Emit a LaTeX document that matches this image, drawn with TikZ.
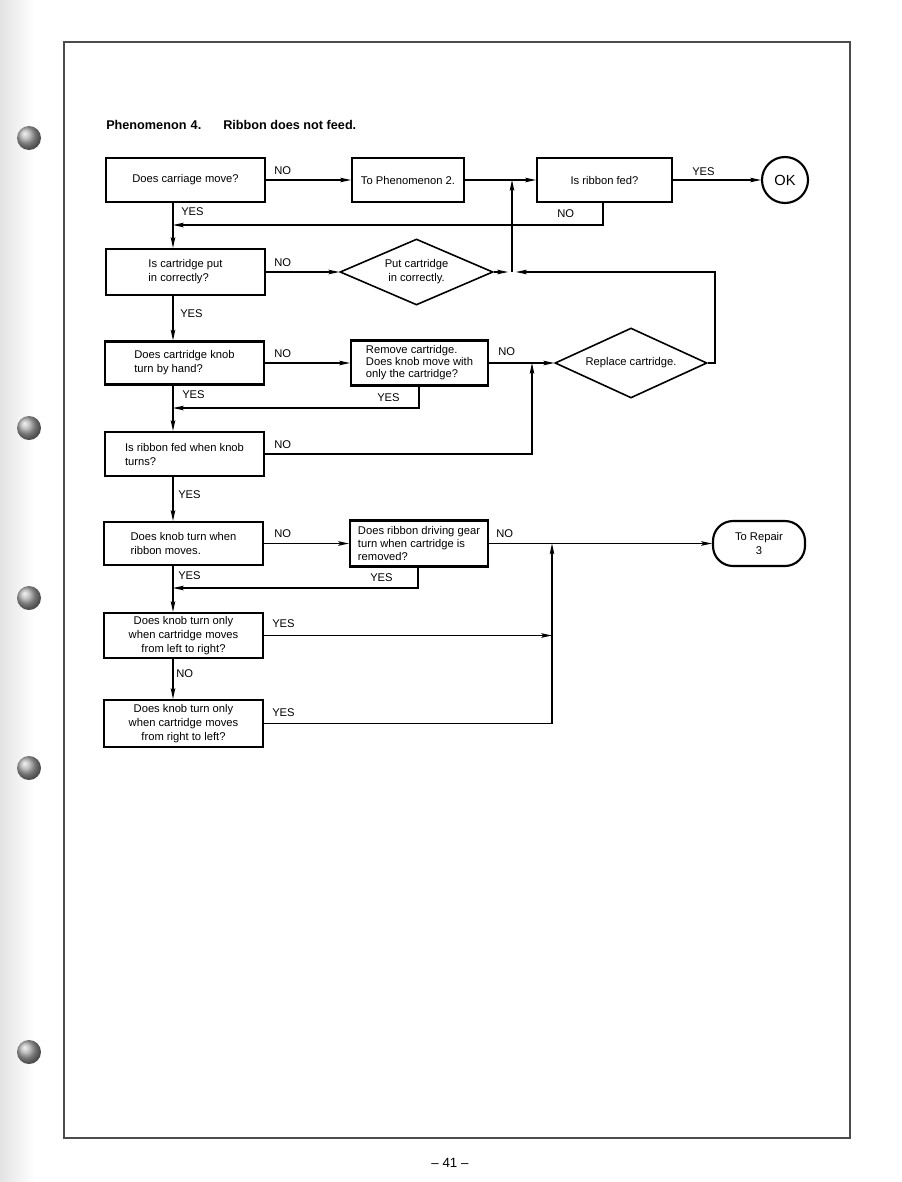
\documentclass[tikz,border=0pt]{standalone}
\usepackage{fontspec}
\setmainfont{Liberation Sans}
\usetikzlibrary{arrows.meta,shapes.geometric,calc}
\newcommand\boxfont{\fontsize{8.4}{10.5}\selectfont}
\newcommand\tightfont{\fontsize{8.4}{9}\selectfont}
\begin{document}
\begin{tikzpicture}[x=0.75pt,y=-0.75pt,
  box/.style={draw,line width=1.6pt,rectangle,inner sep=1pt,font=\boxfont},
  dia/.style={draw,line width=1.2pt,diamond,inner sep=0pt,font=\boxfont,align=center},
  conn/.style={line width=0.85pt},
  arr/.style={conn,-{Stealth[length=8pt,width=3.4pt,inset=1.5pt]}},
  lab/.style={anchor=west,inner sep=0pt,font=\boxfont}]
\useasboundingbox (0,0) rectangle (901,1182);
\fill[white] (0,0) rectangle (901,1182);
\shade[left color=gray!22,right color=white] (0,0) rectangle (34,1182);
% binder holes
\foreach \yy in {138,428,598,768,1052}{
  \shade[ball color=gray!65] (29,\yy) circle[radius=9pt];
}
% frame
\draw[line width=0.8pt,gray!60!black] (64,42) rectangle (850,1138);
% title
\node[anchor=west,inner sep=0pt,font=\fontsize{9.5}{11}\selectfont\bfseries] (t1) at (106,125) {Phenomenon\,\,4.};
\node[anchor=west,inner sep=0pt,font=\fontsize{9.5}{11}\selectfont\bfseries] (t2) at (223,125) {Ribbon does not feed.};

% nodes
\node[box,minimum width=119.25pt,minimum height=33pt] (b1) at (185.5,180) {Does carriage move?};
\node[box,minimum width=84pt,minimum height=33pt] (b2) at (408,180) {To Phenomenon 2.};
\node[box,minimum width=101.25pt,minimum height=33pt] (b3) at (604.5,180) {Is ribbon fed?};
\node[draw,circle,line width=1.6pt,minimum size=34.5pt,inner sep=0pt,font=\fontsize{11}{13}\selectfont] (ok) at (785,180) {OK};
\node[box,align=left,minimum width=119.25pt,minimum height=34.5pt] (b5) at (185.5,272) {Is cartridge put\\in correctly?};
\node[dia,aspect=2.3,minimum width=114.75pt,minimum height=49.5pt] (d1) at (416.5,272) {Put cartridge\\in correctly.};
\node[box,align=left,minimum width=119.25pt,minimum height=32.25pt] (b7) at (184.5,363) {Does cartridge knob\\turn by hand?};
\node[box,align=left,minimum width=102.75pt,minimum height=33.75pt,font=\tightfont] (b8) at (419.5,363) {Remove cartridge.\\Does knob move with\\only the cartridge?};
\node[dia,aspect=2.2,minimum width=114pt,minimum height=52.5pt] (d2) at (631,363) {Replace cartridge.};
\node[box,align=left,minimum width=119.25pt,minimum height=33pt] (b9) at (184.5,454) {Is ribbon fed when knob\\turns?};
\node[box,align=left,minimum width=119.25pt,minimum height=32.25pt] (b10) at (183.5,543.5) {Does knob turn when\\ribbon moves.};
\node[box,align=left,minimum width=103.5pt,minimum height=34.5pt,font=\fontsize{8.4}{9.8}\selectfont] (b11) at (419,543.5) {Does ribbon driving gear\\turn when cartridge is\\removed?};
\node[draw,line width=1.6pt,rounded corners=15pt,minimum width=69pt,minimum height=33.75pt,align=center,font=\boxfont] (tr) at (759,543.5) {To Repair\\3};
\node[box,align=center,minimum width=119.25pt,minimum height=33.75pt] (b12) at (183.5,635.5) {Does knob turn only\\when cartridge moves\\from left to right?};
\node[box,align=center,minimum width=119.25pt,minimum height=35.25pt] (b13) at (183.5,723.5) {Does knob turn only\\when cartridge moves\\from right to left?};

% helper coordinates
\coordinate (cx) at (173,0);
\coordinate (ja) at (512,180);
\coordinate (jb) at (512,272);
\coordinate (jc) at (532,363);
\coordinate (jd) at (552,543.5);
\coordinate (n3) at (603,225);
\coordinate (rr) at (715,272);
\coordinate (y8) at (419,408);
\coordinate (y11) at (418,588);

% trunk
\draw[arr] (b1.south -| cx) -- (b5.north -| cx);
\draw[arr] (b5.south -| cx) -- (b7.north -| cx);
\draw[arr] (b7.south -| cx) -- (b9.north -| cx);
\draw[arr] (b9.south -| cx) -- (b10.north -| cx);
\draw[arr] (b10.south -| cx) -- (b12.north -| cx);
\draw[arr] (b12.south -| cx) -- (b13.north -| cx);

% horizontals
\draw[arr] (b1.east) -- (b2.west);
\draw[arr] (b2.east) -- (b3.west);
\draw[arr] (b3.east) -- (ok.west);
\draw[arr] (b5.east) -- (d1.west);
\draw[arr] (b7.east) -- (b8.west);
\draw[arr] (b8.east) -- (d2.west);
\draw[arr] (b10.east) -- (b11.west);
\draw[arr] (b11.east) -- (tr.west);

% loops
\draw[arr] (b3.south -| n3) |- (n3 -| cx);
\draw[arr,shorten >=3pt] (d1.east) -- (jb);
\draw[arr,shorten >=3pt] (d2.east) -| (rr) -- (jb);
\draw[arr] (jb) -- (ja);
\draw[arr] (b8.south -| y8) |- (y8 -| cx);
\draw[arr] (b9.east) -| (jc);
\draw[arr] (b11.south -| y11) |- (y11 -| cx);
\draw[arr] (b12.east) -- (b12.east -| jd);
\draw[arr] (b13.east) -| (jd);

% labels
\node[lab] (l1) at (274,171) {NO};
\node[lab] (l2) at (181,212) {YES};
\node[lab] (l3) at (557,214) {NO};
\node[lab] (l4) at (692,172) {YES};
\node[lab] (l5) at (274,263) {NO};
\node[lab] (l6) at (180,314) {YES};
\node[lab] (l7) at (274,354) {NO};
\node[lab] (l8) at (498,352) {NO};
\node[lab] (l9) at (377,398) {YES};
\node[lab] (l10) at (182,395) {YES};
\node[lab] (l11) at (274,445) {NO};
\node[lab] (l12) at (178,495) {YES};
\node[lab] (l13) at (274,534) {NO};
\node[lab] (l14) at (496,534) {NO};
\node[lab] (l15) at (370,578) {YES};
\node[lab] (l16) at (178,576) {YES};
\node[lab] (l17) at (272,624) {YES};
\node[lab] (l18) at (176,674) {NO};
\node[lab] (l19) at (272,713) {YES};

% page number
\node[font=\fontsize{10}{12}\selectfont,inner sep=0pt] (pg) at (450,1163) {-- 41 --};
\end{tikzpicture}
\end{document}
